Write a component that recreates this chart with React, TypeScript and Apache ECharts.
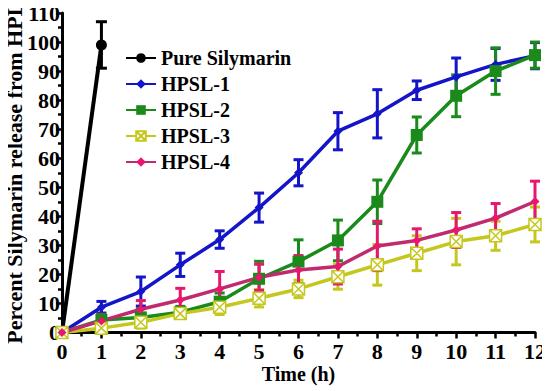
import React, { useEffect, useRef } from "react";
import * as echarts from "echarts";

const TIME = [0, 1, 2, 3, 4, 5, 6, 7, 8, 9, 10, 11, 12];
const PURE_TIME = [0, 1];
const PURE = [0, 99];
const PURE_ERR = [0, 8];
const HPSL1 = [0, 8.7, 14.1, 23.3, 32, 43, 55, 69.3, 75.3, 83.4, 88, 92.3, 95.3];
const HPSL1_ERR = [0, 2, 5, 4, 3, 5, 4.5, 6.4, 8.3, 3.2, 6.5, 5.5, 4.5];
const HPSL2 = [0, 4.3, 5.2, 7, 10.6, 18.5, 24.4, 31.7, 45, 68, 81.5, 90, 95.5];
const HPSL2_ERR = [0, 2, 3, 2, 3, 6, 7.5, 7, 7.5, 6.2, 7.2, 8, 4.5];
const HPSL3 = [0, 1.5, 3.5, 6.5, 8.7, 11.8, 15, 19.2, 23.3, 27.3, 31.3, 33.3, 37.2];
const HPSL3_ERR = [0, 1.5, 2, 1.5, 2.5, 3, 3, 4.3, 7, 6, 8, 5, 6];
const HPSL4 = [0, 4, 8, 11.2, 15, 19, 21.5, 22.7, 29.8, 31.7, 35.3, 39.4, 45.1];
const HPSL4_ERR = [0, 2, 3, 4, 6, 4.5, 5, 6, 8.5, 4, 6, 5, 7];

const NAMES = ["Pure Silymarin", "HPSL-1", "HPSL-2", "HPSL-3", "HPSL-4"];
const COLORS = ["#000000", "#1414c8", "#1a8a1a", "#c4c81e", "#e8176e"];
const X_TICKS = [0, 1, 2, 3, 4, 5, 6, 7, 8, 9, 10, 11, 12];
const Y_TICKS = [0, 10, 20, 30, 40, 50, 60, 70, 80, 90, 100, 110];

const FONT = "'Liberation Serif', 'Times New Roman', serif";

function pairs(xs: number[], ys: number[]) {
  return xs.map((x, i) => [x, ys[i]]);
}
function errRows(xs: number[], ys: number[], es: number[]) {
  return xs.map((x, i) => [x, ys[i] - es[i], ys[i] + es[i]]);
}

function errorSeries(color: string, rows: number[][], width: number) {
  return {
    type: "custom",
    data: rows,
    z: 2,
    encode: { x: 0, y: [1, 2] },
    renderItem: (params: any, api: any) => {
      const x = api.value(0);
      const lo = api.value(1);
      const hi = api.value(2);
      if (hi - lo <= 0) return null;
      const p1 = api.coord([x, hi]);
      const p2 = api.coord([x, lo]);
      const w = width / 2;
      const style = { stroke: color, lineWidth: 3, fill: "none" };
      return {
        type: "group",
        children: [
          { type: "line", shape: { x1: p1[0], y1: p1[1], x2: p2[0], y2: p2[1] }, style },
          { type: "line", shape: { x1: p1[0] - w, y1: p1[1], x2: p1[0] + w, y2: p1[1] }, style },
          { type: "line", shape: { x1: p2[0] - w, y1: p2[1], x2: p2[0] + w, y2: p2[1] }, style },
        ],
      };
    },
  };
}

const XBOX = "path://M0,0H10V10H0Z M0,0L10,10 M10,0L0,10";

export default function App() {
  const ref = useRef<HTMLDivElement>(null);
  useEffect(() => {
    if (!ref.current) return;
    const chart = echarts.init(ref.current, undefined, { renderer: "svg" });
    const lineBase = { type: "line", z: 3, lineStyle: { width: 3.5 } };
    chart.setOption({
      animation: false,
      backgroundColor: "#ffffff",
      grid: { left: 62, right: 15, top: 13, bottom: 58.5, containLabel: false, outerBoundsMode: "none" },
      legend: {
        data: NAMES,
        orient: "vertical",
        left: 120,
        top: 43,
        itemWidth: 30,
        itemHeight: 12,
        itemGap: 6,
        textStyle: { fontFamily: FONT, fontWeight: "bold", fontSize: 20, color: "#000", lineHeight: 20 },
      },
      xAxis: {
        type: "value",
        min: 0,
        max: 12,
        interval: 1,
        name: "Time (h)",
        nameLocation: "middle",
        nameGap: 31,
        nameMoveOverlap: false,
        nameTextStyle: { fontFamily: FONT, fontWeight: "bold", fontSize: 20, color: "#000" },
        axisLine: { lineStyle: { color: "#000", width: 3 } },
        axisTick: { length: 6, lineStyle: { width: 2.5, color: "#000" } },
        minorTick: { show: true, splitNumber: 2, length: 4, lineStyle: { width: 2.5, color: "#000" } },
        splitLine: { show: false },
        axisLabel: {
          fontFamily: FONT,
          fontWeight: "bold",
          fontSize: 22,
          color: "#000",
          margin: 8,
          formatter: (v: number) => (X_TICKS.includes(v) ? String(v) : ""),
        },
      },
      yAxis: {
        type: "value",
        min: 0,
        max: 110,
        interval: 10,
        name: "Percent Silymarin release from HPL",
        nameLocation: "middle",
        nameRotate: 90,
        nameGap: 37,
        nameMoveOverlap: false,
        nameTextStyle: { fontFamily: FONT, fontWeight: "bold", fontSize: 22, color: "#000" },
        axisLine: { show: true, lineStyle: { color: "#000", width: 3 } },
        axisTick: { show: true, length: 6, lineStyle: { width: 2.5, color: "#000" } },
        minorTick: { show: true, splitNumber: 2, length: 4, lineStyle: { width: 2.5, color: "#000" } },
        splitLine: { show: false },
        axisLabel: {
          fontFamily: FONT,
          fontWeight: "bold",
          fontSize: 22,
          color: "#000",
          margin: 2,
          formatter: (v: number) => (Y_TICKS.includes(v) ? String(v) : ""),
        },
      },
      series: [
        errorSeries(COLORS[0], errRows(PURE_TIME, PURE, PURE_ERR), 11),
        errorSeries(COLORS[1], errRows(TIME, HPSL1, HPSL1_ERR), 10),
        errorSeries(COLORS[2], errRows(TIME, HPSL2, HPSL2_ERR), 10),
        errorSeries(COLORS[3], errRows(TIME, HPSL3, HPSL3_ERR), 10),
        errorSeries(COLORS[4], errRows(TIME, HPSL4, HPSL4_ERR), 10),
        {
          ...lineBase,
          name: NAMES[0],
          data: pairs(PURE_TIME, PURE),
          symbol: "circle",
          symbolSize: 11,
          itemStyle: { color: COLORS[0] },
          lineStyle: { width: 4, color: COLORS[0] },
        },
        {
          ...lineBase,
          name: NAMES[1],
          data: pairs(TIME, HPSL1),
          symbol: "diamond",
          symbolSize: 9,
          itemStyle: { color: COLORS[1] },
          lineStyle: { width: 3.5, color: COLORS[1] },
        },
        {
          ...lineBase,
          name: NAMES[2],
          data: pairs(TIME, HPSL2),
          symbol: "rect",
          symbolSize: 12,
          itemStyle: { color: COLORS[2] },
          lineStyle: { width: 3.5, color: COLORS[2] },
        },
        {
          ...lineBase,
          name: NAMES[3],
          data: pairs(TIME, HPSL3),
          symbol: XBOX,
          symbolSize: 12,
          itemStyle: { color: "#ffffff", borderColor: COLORS[3], borderWidth: 1.5 },
          lineStyle: { width: 3.5, color: COLORS[3] },
        },
        {
          ...lineBase,
          name: NAMES[4],
          data: pairs(TIME, HPSL4),
          symbol: "diamond",
          symbolSize: 9,
          itemStyle: { color: COLORS[4] },
          lineStyle: { width: 3.5, color: "#c02a6e" },
        },
      ],
    });
    return () => chart.dispose();
  }, []);
  return <div ref={ref} style={{ width: 550, height: 391, marginLeft: -8, marginTop: -8 }} />;
}
